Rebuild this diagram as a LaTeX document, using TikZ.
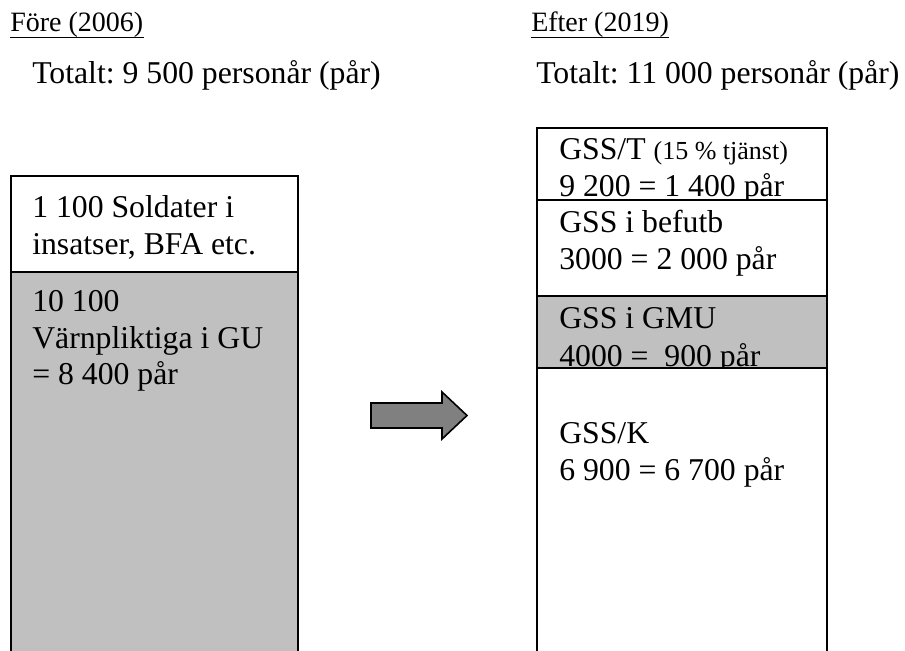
\documentclass[tikz,border=0pt]{standalone}
\usepackage{fontspec}
\setmainfont{Liberation Serif}
\frenchspacing
\definecolor{cellgray}{HTML}{C0C0C0}
\definecolor{arrowgray}{HTML}{808080}
\newcommand{\bodyfont}{\fontsize{23.8}{27.75}\selectfont}
\newcommand{\headfont}{\fontsize{21}{25}\selectfont}
\newcommand{\notefont}{\fontsize{19.5}{23}\selectfont}
\tikzset{
  cell/.style={draw=black, line width=1.2pt},
  graycell/.style={cell, fill=cellgray},
  txt/.style={anchor=base west, inner sep=0pt, font=\bodyfont},
  head/.style={anchor=base west, inner sep=0pt, font=\headfont},
  uline/.style={line width=1.1pt},
  blockarrow/.style={fill=arrowgray, draw=black, line width=1.2pt, line join=miter},
}
\begin{document}
\begin{tikzpicture}[x=0.75pt, y=-0.75pt]
  \useasboundingbox (0,0) rectangle (905,650);
  \clip (0,0) rectangle (905,650);

  % headings
  \node[head] (h1) at (10,31) {Före (2006)};
  \node[head] (h2) at (531,31) {Efter (2019)};
  \draw[uline] ([yshift=-5pt]h1.base west) -- ([yshift=-5pt]h1.base east);
  \draw[uline] ([yshift=-5pt]h2.base west) -- ([yshift=-5pt]h2.base east);

  \node[txt] (t1) at (32,83) {Totalt: 9 500 personår (pår)};
  \node[txt] (t2) at (536,83) {Totalt: 11 000 personår (pår)};

  % column before
  \draw[cell, fill=white] (11,176) rectangle (298,272);
  \draw[graycell] (11,272) rectangle (298,670);
  \begin{scope}
    \clip (11,176) rectangle (298,272);
    \node[txt] (a1) at (32,217) {1 100 Soldater i};
    \node[txt] (a2) at (32,254) {insatser, BFA etc.};
  \end{scope}
  \node[txt] (b1) at (32,311) {10 100};
  \node[txt] (b2) at (32,348) {Värnpliktiga i GU};
  \node[txt] (b3) at (32,384) {= 8 400 pår};

  % column after
  \draw[cell, fill=white] (537,128) rectangle (827,200);
  \draw[cell, fill=white] (537,200) rectangle (827,296);
  \draw[graycell] (537,296) rectangle (827,368);
  \draw[cell, fill=white] (537,368) rectangle (827,670);
  \begin{scope}
    \clip (537,128) rectangle (827,200);
    \node[txt] (c1) at (559,159) {GSS/T {\notefont(15 \% tjänst)}};
    \node[txt] (c2) at (559,196.5) {9 200 = 1 400 pår};
  \end{scope}
  \begin{scope}
    \clip (537,200) rectangle (827,296);
    \node[txt] (d1) at (559,232) {GSS i befutb};
    \node[txt] (d2) at (559,269) {3000 = 2 000 pår};
  \end{scope}
  \begin{scope}
    \clip (537,296) rectangle (827,368);
    \node[txt] (e1) at (559,328) {GSS i GMU};
    \node[txt] (e2) at (559,366) {4000 = \ 900 pår};
  \end{scope}
  \node[txt] (f1) at (559,443) {GSS/K};
  \node[txt] (f2) at (559,480) {6 900 = 6 700 pår};

  % block arrow between the columns
  \draw[blockarrow] (371,403) -- (442,403) -- (442,392) -- (467,415.5)
    -- (442,439) -- (442,428) -- (371,428) -- cycle;
\end{tikzpicture}
\end{document}
